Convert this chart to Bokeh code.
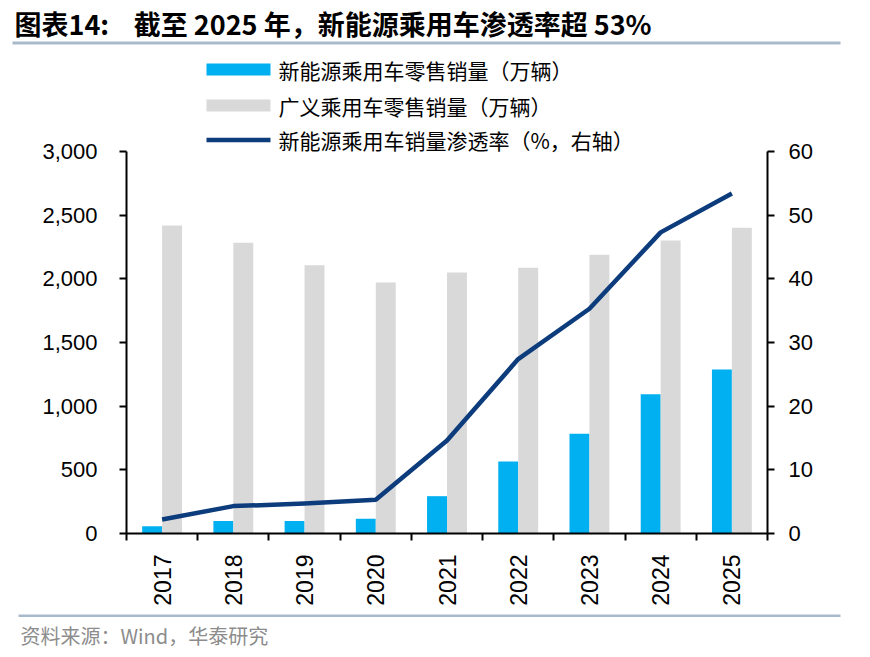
from math import pi

from bokeh.core.properties import value
from bokeh.embed import file_html
from bokeh.layouts import column
from bokeh.models import (ColumnDataSource, FixedTicker, LinearAxis,
                          NumeralTickFormatter, Range1d)
from bokeh.plotting import figure
from bokeh.resources import INLINE

# ---- data -----------------------------------------------------------------
years = ["2017", "2018", "2019", "2020", "2021", "2022", "2023", "2024", "2025"]
# NEV passenger-car retail sales (10k units)
nev_retail = [57, 99, 98, 115, 293, 565, 783, 1094, 1288]
# total passenger-car retail sales (10k units)
pv_retail = [2419, 2283, 2107, 1971, 2050, 2087, 2189, 2301, 2401]
# NEV penetration rate (%, right axis)
penetration = [2.2, 4.3, 4.7, 5.3, 14.6, 27.4, 35.3, 47.3, 53.4]

left_max, right_max = 3000, 60
left_ticks = [0, 500, 1000, 1500, 2000, 2500, 3000]
right_ticks = [0, 10, 20, 30, 40, 50, 60]

# non-breaking spaces keep the wide gap after the figure number in SVG text
title_text = "图表14:\u00a0\u00a0\u00a0\u00a0截至 2025 年，新能源乘用车渗透率超 53%"
legend_labels = ["新能源乘用车零售销量（万辆）", "广义乘用车零售销量（万辆）",
                 "新能源乘用车销量渗透率（%，右轴）"]
source_text = "资料来源：Wind，华泰研究"

BLUE = "#00B0F0"
GREY = "#D9D9D9"
NAVY = "#0D3C7C"
RULE = "#A9BACB"
LATIN = "Liberation Sans"
CJK = "Noto Sans CJK SC"

# ---- page geometry (pixels from the top-left of the page) -----------------
W = 870
HEAD_H = 50          # title strip
FOOT_TOP = 610       # source-note strip starts here
PAGE_H = 657
PLOT_L, PLOT_R = 126, 767
AXIS_TOP, AXIS_BOTTOM = 151, 533   # where 3,000 / 0 sit
BOTTOM_BORDER = FOOT_TOP - AXIS_BOTTOM
MAIN_H = FOOT_TOP - HEAD_H

# the frame runs up to the top of the body so the legend can sit in it;
# the value axes only span 0..max, so stretch the ranges accordingly
stretch = (AXIS_BOTTOM - HEAD_H) / (AXIS_BOTTOM - AXIS_TOP)


def blank_panel(height, y_top, y_bottom):
    """A figure whose frame fills its whole canvas, in page-pixel coordinates."""
    f = figure(width=W, height=height, output_backend="svg", toolbar_location=None,
               x_range=Range1d(0, W), y_range=Range1d(y_bottom, y_top),
               x_axis_location=None, y_axis_location=None,
               min_border=0, outline_line_color=None, frame_align=False,
               background_fill_color="white", border_fill_color="white")
    f.xgrid.visible = False
    f.ygrid.visible = False
    return f


# ---- header ---------------------------------------------------------------
head = blank_panel(HEAD_H, 0, HEAD_H)
head.text(x=[14], y=[23], text=[title_text], text_font=value(CJK),
          text_font_size="27px", text_font_style="bold", text_color="black",
          text_baseline="middle", text_align="left")
head.quad(left=[12], right=[840], top=[41], bottom=[44], color=RULE, line_color=None)

# ---- chart body -----------------------------------------------------------
pos = list(range(1, len(years) + 1))
src = ColumnDataSource(dict(
    x=pos,
    x_nev=[q - 0.14 for q in pos],
    x_pv=[q + 0.14 for q in pos],
    nev=nev_retail,
    pv=pv_retail,
    rate=penetration,
))

p = figure(width=W, height=MAIN_H, output_backend="svg", toolbar_location=None,
           x_range=Range1d(0.5, len(years) + 0.5),
           y_range=Range1d(0, left_max * stretch),
           min_border_left=PLOT_L, min_border_right=W - PLOT_R,
           min_border_top=0, min_border_bottom=BOTTOM_BORDER,
           outline_line_color=None, background_fill_color="white",
           border_fill_color="white", frame_align=False)
p.xgrid.visible = False
p.ygrid.visible = False
p.extra_y_ranges = {"rate": Range1d(0, right_max * stretch),
                    "py": Range1d(AXIS_BOTTOM, HEAD_H)}
p.extra_x_ranges = {"px": Range1d(PLOT_L, PLOT_R)}

p.vbar(x="x_nev", top="nev", width=0.28, source=src, color=BLUE, line_color=None)
p.vbar(x="x_pv", top="pv", width=0.28, source=src, color=GREY, line_color=None)
p.line(x="x", y="rate", source=src, y_range_name="rate", line_color=NAVY,
       line_width=4.5, line_join="round")

# legend, laid out in page pixels
swatch_l, swatch_r = 206, 270
rows = [69, 105, 139.5]
p.quad(left=[swatch_l], right=[swatch_r], top=[63], bottom=[75], color=BLUE,
       line_color=None, x_range_name="px", y_range_name="py")
p.quad(left=[swatch_l], right=[swatch_r], top=[99], bottom=[111], color=GREY,
       line_color=None, x_range_name="px", y_range_name="py")
p.segment(x0=[swatch_l], x1=[swatch_r], y0=[rows[2]], y1=[rows[2]],
          line_color=NAVY, line_width=4.5, x_range_name="px", y_range_name="py")
p.text(x=[278] * 3, y=rows, text=legend_labels, text_font=value(CJK),
       text_font_size="21px", text_color="black", text_baseline="middle",
       text_align="left", x_range_name="px", y_range_name="py")


def style_axis(ax, size):
    ax.axis_line_color = "black"
    ax.axis_line_width = 2
    ax.major_tick_line_color = "black"
    ax.major_tick_line_width = 2
    ax.minor_tick_line_color = "black"
    ax.minor_tick_line_width = 2
    ax.major_label_text_font = LATIN
    ax.major_label_text_font_size = size
    ax.major_label_text_color = "black"


# bottom axis: year labels at category centres, tick marks on category borders
xa = p.xaxis[0]
xa.ticker = FixedTicker(ticks=pos, minor_ticks=[q + 0.5 for q in range(0, len(years) + 1)])
xa.major_label_overrides = {q: y for q, y in zip(pos, years)}
xa.major_label_orientation = pi / 2
xa.major_tick_out = 0
xa.major_tick_in = 0
xa.minor_tick_out = 7
xa.minor_tick_in = 0
xa.major_label_standoff = 14
style_axis(xa, "23px")

ya = p.yaxis[0]
ya.ticker = FixedTicker(ticks=left_ticks)
ya.bounds = (0, left_max)
ya.formatter = NumeralTickFormatter(format="0,0")
ya.major_tick_out = 7
ya.major_tick_in = 0
ya.minor_tick_out = 0
ya.major_label_standoff = 22
style_axis(ya, "22px")

ra = LinearAxis(y_range_name="rate", ticker=FixedTicker(ticks=right_ticks),
                bounds=(0, right_max))
ra.major_tick_out = 7
ra.major_tick_in = 0
ra.minor_tick_out = 0
ra.major_label_standoff = 14
style_axis(ra, "22px")
p.add_layout(ra, "right")

# ---- footer ---------------------------------------------------------------
foot = blank_panel(PAGE_H - FOOT_TOP, FOOT_TOP, PAGE_H)
foot.quad(left=[18], right=[840], top=[614], bottom=[616.5], color=RULE, line_color=None)
foot.text(x=[20], y=[635], text=[source_text], text_font=value(CJK),
          text_font_size="20px", text_color="#8C8C8C", text_baseline="middle",
          text_align="left")

page = column(head, p, foot, spacing=0)
open("out.html", "w").write(file_html(page, INLINE))
